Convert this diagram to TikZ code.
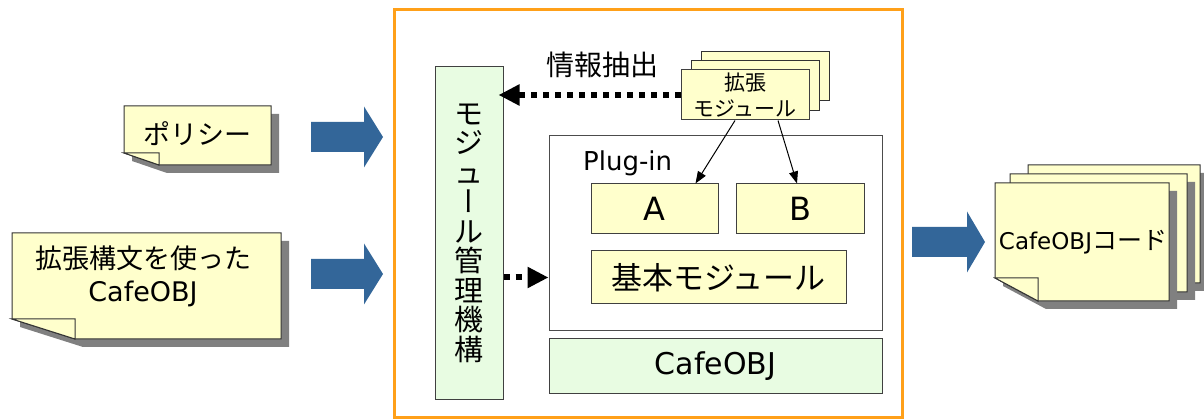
\documentclass[tikz,border=0pt]{standalone}
\usepackage{fontspec}
\setmainfont{DejaVu Sans}
\newfontfamily\jp{Noto Sans CJK JP}
\newfontfamily\jpv[RawFeature=+vert]{Noto Sans CJK JP}
\usetikzlibrary{arrows.meta,calc}
\definecolor{notey}{RGB}{255,255,204}
\definecolor{boxg}{RGB}{232,252,226}
\definecolor{frameo}{RGB}{255,160,25}
\definecolor{barrow}{RGB}{51,102,153}
\definecolor{shad}{RGB}{128,128,128}
\newcommand{\fs}[1]{\fontsize{#1}{#1}\selectfont}
% note with folded bottom-left corner: x1,y1,x2,y2,fold width,fold height
\newcommand{\drawnote}[6]{%
  \begin{scope}[shift={(8,8)}]
    \fill[shad] (#1,#2) -- (#3,#2) -- (#3,#4) -- ({#1+#5},#4) -- (#1,{#4-#6}) -- cycle;
  \end{scope}
  \filldraw[notefill] (#1,#2) -- (#3,#2) -- (#3,#4) -- ({#1+#5},#4) -- (#1,{#4-#6}) -- cycle;
  \filldraw[notefill] (#1,{#4-#6}) -- ({#1+#5},{#4-#6}) -- ({#1+#5},#4) -- cycle;
}
% block arrow: x start, x head base, x tip, y centre
\newcommand{\blockarrow}[4]{%
  \fill[barrow] (#1,{#4-15}) -- (#2,{#4-15}) -- (#2,{#4-30.5}) -- (#3,#4) -- (#2,{#4+30.5}) -- (#2,{#4+15}) -- (#1,{#4+15}) -- cycle;
}
\begin{document}
\begin{tikzpicture}[x=1pt,y=-1pt,
  box/.style={draw=black!75, line width=1pt, inner sep=0pt},
  ybox/.style={box, fill=notey},
  gbox/.style={box, fill=boxg},
  notefill/.style={fill=notey, draw=black!80, line width=1pt},
  dotarrow/.style={line width=6pt, dash pattern=on 6pt off 6pt, -{Triangle[length=21pt,width=20pt]}},
  thinarrow/.style={line width=1pt, -{Triangle[length=12pt,width=9pt]}},
  txt/.style={inner sep=0pt, align=center}]
\useasboundingbox (0,0) rectangle (1204,419);

% orange frame
\draw[frameo, line width=3pt] (394,10) rectangle (902,417);

% input notes
\drawnote{124}{106}{271}{165}{35}{12}
\node[txt, font=\jp\fs{27}] (pol) at (197.5,134) {ポリシー};
\drawnote{12}{233}{281}{339}{63}{20}
\node[txt, font=\fontsize{27}{33}\selectfont] (src) at (143,276) {{\jp 拡張構文を使った}\\CafeOBJ};

% output notes
\drawnote{1028}{165}{1200}{283}{43}{23}
\drawnote{1010}{174}{1187}{292}{43}{23}
\drawnote{995}{183}{1169}{301}{43}{23}
\node[txt] (code) at (1083,242) {{\fs{23}CafeOBJ}{\jp\fs{25}コード}};

% block arrows
\blockarrow{311}{364}{383}{137}
\blockarrow{311}{364}{383}{274}
\blockarrow{912}{967}{985}{242}

% module manager
\node[gbox, minimum width=68, minimum height=332, align=center,
      font=\jp\fontsize{29}{29.5}\selectfont] (mgr) at (469,233)
      {モ\\ジ\\ュ\\{\jpv ー}\\ル\\管\\理\\機\\構};

% plug-in area
\node[box, fill=white, draw=black!70, minimum width=333, minimum height=195] (plug) at (715.5,233.5) {};
\node[txt, anchor=base west, font=\fs{26}] (plugl) at (583,171) {Plug-in};
\node[ybox, minimum width=127, minimum height=50, font=\fs{32}] (A) at (654.5,209) {A};
\node[ybox, minimum width=128, minimum height=50, font=\fs{32}] (B) at (800,209) {B};
\node[ybox, minimum width=255, minimum height=53, font=\jp\fs{31}] (base) at (718.5,277.5) {基本モジュール};
\node[gbox, minimum width=333, minimum height=54, font=\fs{30}] (cafe) at (715.5,366) {CafeOBJ};

% extension modules stack
\filldraw[notefill] (701,52) rectangle (829,101);
\filldraw[notefill] (691,61) rectangle (819,111);
\node[ybox, minimum width=128, minimum height=50, align=center,
      font=\jp\fontsize{21}{26}\selectfont] (ext) at (745,95) {拡張\\モジュール};
\node[txt, font=\jp\fs{28}] (info) at (602,65) {情報抽出};

% connectors
\draw[dotarrow] (ext.west) -- ($(ext.west -| mgr.east)+(-5,0)$);
\draw[dotarrow] (mgr.east |- base) -- (plug.west |- base);
\draw[thinarrow] ($(ext.south)+(-10,0)$) -- ($(A.north east)+(-23,0)$);
\draw[thinarrow] ($(ext.south)+(33,0)$) -- ($(B.north)+(-3,0)$);
\end{tikzpicture}
\end{document}
